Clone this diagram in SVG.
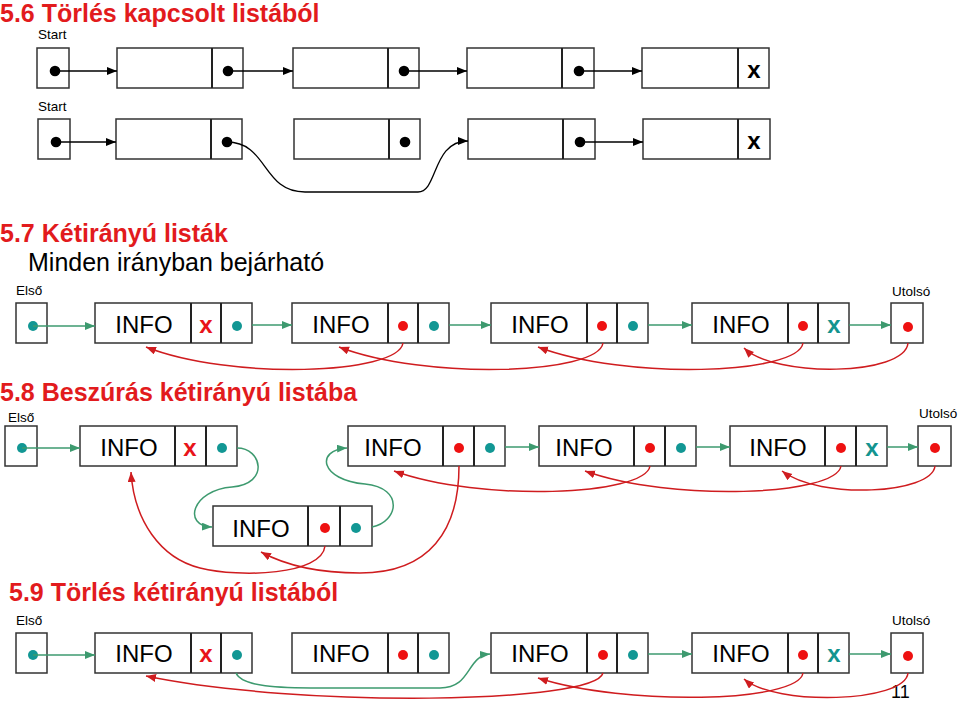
<svg xmlns="http://www.w3.org/2000/svg" width="960" height="702" viewBox="0 0 960 702">
<style>
text{font-family:"Liberation Sans",Arial,sans-serif}
.title{font-size:25px;font-weight:bold;fill:#e21b1d}
.sub{font-size:25px;fill:#000}
.lbl{font-size:13.5px;fill:#000}
.box{fill:#fff;stroke:#333;stroke-width:1.5}
.div{stroke:#222;stroke-width:2}
.info{font-size:24px;fill:#000;text-anchor:middle}
.xr{font-size:24px;font-weight:bold;fill:#e8141a;text-anchor:middle}
.xt{font-size:24px;font-weight:bold;fill:#13948f;text-anchor:middle}
.xb{font-size:24px;font-weight:bold;fill:#000;text-anchor:middle}
.dk{fill:#000}
.dr{fill:#ee1111}
.dt{fill:#129794}
.ck{stroke:#000;stroke-width:1.3;fill:none;marker-end:url(#ak)}
.cg{stroke:#3d9a6f;stroke-width:1.5;fill:none;marker-end:url(#ag)}
.cr{stroke:#cf1c1f;stroke-width:1.5;fill:none;marker-end:url(#ar)}
</style>
<defs>
<marker id="ak" markerUnits="userSpaceOnUse" markerWidth="11" markerHeight="9" refX="10" refY="4" orient="auto"><path d="M0,0 L10,4 L0,8 z" fill="#000"/></marker>
<marker id="ag" markerUnits="userSpaceOnUse" markerWidth="11" markerHeight="9" refX="10" refY="4" orient="auto"><path d="M0,0 L10,4 L0,8 z" fill="#3d9a6f"/></marker>
<marker id="ar" markerUnits="userSpaceOnUse" markerWidth="11" markerHeight="9" refX="10" refY="4" orient="auto"><path d="M0,0 L10,4 L0,8 z" fill="#cf1c1f"/></marker>
</defs>
<rect width="960" height="702" fill="#fff"/>

<g id="titles">
<text class="title" x="0" y="22">5.6 Törlés kapcsolt listából</text>
<text class="title" x="0" y="242">5.7 Kétirányú listák</text>
<text class="sub" x="28" y="271">Minden irányban bejárható</text>
<text class="title" x="0" y="401">5.8 Beszúrás kétirányú listába</text>
<text class="title" x="9" y="601">5.9 Törlés kétirányú listából</text>
<text class="lbl" x="38" y="39">Start</text>
<text class="lbl" x="38" y="111">Start</text>
<text class="lbl" x="16" y="295">Első</text>
<text class="lbl" x="892" y="296">Utolsó</text>
<text class="lbl" x="8" y="422">Első</text>
<text class="lbl" x="919" y="418">Utolsó</text>
<text class="lbl" x="16" y="625">Első</text>
<text class="lbl" x="892" y="625">Utolsó</text>
<text x="891" y="698" style="font-size:18px;fill:#000">11</text>
</g>

<!-- 5.6 row 1 -->
<g id="s56a-start"><rect class="box" x="37" y="48" width="32" height="40"/><circle class="dk" cx="55" cy="71" r="5.3"/></g>
<g id="s56a-n1"><rect class="box" x="117" y="48" width="126" height="40"/><line class="div" x1="212" y1="48" x2="212" y2="88"/><circle class="dk" cx="228" cy="71" r="5.3"/></g>
<g id="s56a-n2"><rect class="box" x="293" y="48" width="126" height="40"/><line class="div" x1="388" y1="48" x2="388" y2="88"/><circle class="dk" cx="404" cy="71" r="5.3"/></g>
<g id="s56a-n3"><rect class="box" x="467" y="48" width="127" height="40"/><line class="div" x1="562" y1="48" x2="562" y2="88"/><circle class="dk" cx="579" cy="71" r="5.3"/></g>
<g id="s56a-n4"><rect class="box" x="642" y="48" width="127" height="40"/><line class="div" x1="738" y1="48" x2="738" y2="88"/><text class="xb" x="754" y="78">x</text></g>

<!-- 5.6 row 2 -->
<g id="s56b-start"><rect class="box" x="38" y="119" width="32" height="40"/><circle class="dk" cx="56" cy="142" r="5.3"/></g>
<g id="s56b-n1"><rect class="box" x="116" y="119" width="126" height="40"/><line class="div" x1="211" y1="119" x2="211" y2="159"/><circle class="dk" cx="227" cy="142" r="5.3"/></g>
<g id="s56b-n2"><rect class="box" x="294" y="119" width="126" height="40"/><line class="div" x1="389" y1="119" x2="389" y2="159"/><circle class="dk" cx="405" cy="142" r="5.3"/></g>
<g id="s56b-n3"><rect class="box" x="468" y="119" width="127" height="40"/><line class="div" x1="563" y1="119" x2="563" y2="159"/><circle class="dk" cx="580" cy="142" r="5.3"/></g>
<g id="s56b-n4"><rect class="box" x="643" y="119" width="127" height="40"/><line class="div" x1="738" y1="119" x2="738" y2="159"/><text class="xb" x="754" y="149">x</text></g>

<!-- 5.7 -->
<g id="s57-first"><rect class="box" x="16" y="303" width="31" height="40"/><circle class="dt" cx="33" cy="326" r="5"/></g>
<g id="s57-n1"><rect class="box" x="95" y="303" width="157" height="40"/><line class="div" x1="191" y1="303" x2="191" y2="343"/><line class="div" x1="221" y1="303" x2="221" y2="343"/><text class="info" x="144" y="333">INFO</text><text class="xr" x="206" y="333">x</text><circle class="dt" cx="237" cy="326" r="5"/></g>
<g id="s57-n2"><rect class="box" x="292" y="303" width="157" height="40"/><line class="div" x1="388" y1="303" x2="388" y2="343"/><line class="div" x1="418" y1="303" x2="418" y2="343"/><text class="info" x="341" y="333">INFO</text><circle class="dr" cx="403" cy="326" r="5"/><circle class="dt" cx="434" cy="326" r="5"/></g>
<g id="s57-n3"><rect class="box" x="491" y="303" width="157" height="40"/><line class="div" x1="587" y1="303" x2="587" y2="343"/><line class="div" x1="617" y1="303" x2="617" y2="343"/><text class="info" x="540" y="333">INFO</text><circle class="dr" cx="602" cy="326" r="5"/><circle class="dt" cx="633" cy="326" r="5"/></g>
<g id="s57-n4"><rect class="box" x="692" y="303" width="157" height="40"/><line class="div" x1="788" y1="303" x2="788" y2="343"/><line class="div" x1="818" y1="303" x2="818" y2="343"/><text class="info" x="741" y="333">INFO</text><circle class="dr" cx="803" cy="326" r="5"/><text class="xt" x="834" y="333">x</text></g>
<g id="s57-last"><rect class="box" x="891" y="303" width="32" height="40"/><circle class="dr" cx="908" cy="327" r="5"/></g>

<!-- 5.8 -->
<g id="s58-first"><rect class="box" x="5" y="426" width="32" height="40"/><circle class="dt" cx="22" cy="448" r="5"/></g>
<g id="s58-n1"><rect class="box" x="80" y="426" width="157" height="40"/><line class="div" x1="175" y1="426" x2="175" y2="466"/><line class="div" x1="206" y1="426" x2="206" y2="466"/><text class="info" x="129" y="456">INFO</text><text class="xr" x="190" y="456">x</text><circle class="dt" cx="222" cy="448" r="5"/></g>
<g id="s58-new"><rect class="box" x="213" y="506" width="159" height="40"/><line class="div" x1="308" y1="506" x2="308" y2="546"/><line class="div" x1="340" y1="506" x2="340" y2="546"/><text class="info" x="261" y="537">INFO</text><circle class="dr" cx="325" cy="528" r="5"/><circle class="dt" cx="356" cy="528" r="5"/></g>
<g id="s58-n2"><rect class="box" x="348" y="426" width="157" height="40"/><line class="div" x1="443" y1="426" x2="443" y2="466"/><line class="div" x1="474" y1="426" x2="474" y2="466"/><text class="info" x="393" y="456">INFO</text><circle class="dr" cx="459" cy="448" r="5"/><circle class="dt" cx="490" cy="448" r="5"/></g>
<g id="s58-n3"><rect class="box" x="539" y="426" width="157" height="40"/><line class="div" x1="634" y1="426" x2="634" y2="466"/><line class="div" x1="665" y1="426" x2="665" y2="466"/><text class="info" x="584" y="456">INFO</text><circle class="dr" cx="650" cy="448" r="5"/><circle class="dt" cx="681" cy="448" r="5"/></g>
<g id="s58-n4"><rect class="box" x="730" y="426" width="157" height="40"/><line class="div" x1="825" y1="426" x2="825" y2="466"/><line class="div" x1="856" y1="426" x2="856" y2="466"/><text class="info" x="778" y="456">INFO</text><circle class="dr" cx="841" cy="448" r="5"/><text class="xt" x="872" y="456">x</text></g>
<g id="s58-last"><rect class="box" x="918" y="426" width="33" height="40"/><circle class="dr" cx="935" cy="448" r="5"/></g>

<!-- 5.9 -->
<g id="s59-first"><rect class="box" x="16" y="633" width="31" height="40"/><circle class="dt" cx="33" cy="655" r="5"/></g>
<g id="s59-n1"><rect class="box" x="95" y="633" width="157" height="40"/><line class="div" x1="191" y1="633" x2="191" y2="673"/><line class="div" x1="221" y1="633" x2="221" y2="673"/><text class="info" x="144" y="662">INFO</text><text class="xr" x="206" y="662">x</text><circle class="dt" cx="237" cy="655" r="5"/></g>
<g id="s59-n2"><rect class="box" x="292" y="633" width="157" height="40"/><line class="div" x1="388" y1="633" x2="388" y2="673"/><line class="div" x1="418" y1="633" x2="418" y2="673"/><text class="info" x="341" y="662">INFO</text><circle class="dr" cx="403" cy="655" r="5"/><circle class="dt" cx="434" cy="655" r="5"/></g>
<g id="s59-n3"><rect class="box" x="491" y="633" width="157" height="40"/><line class="div" x1="587" y1="633" x2="587" y2="673"/><line class="div" x1="617" y1="633" x2="617" y2="673"/><text class="info" x="540" y="662">INFO</text><circle class="dr" cx="603" cy="655" r="5"/><circle class="dt" cx="633" cy="655" r="5"/></g>
<g id="s59-n4"><rect class="box" x="692" y="633" width="157" height="40"/><line class="div" x1="788" y1="633" x2="788" y2="673"/><line class="div" x1="818" y1="633" x2="818" y2="673"/><text class="info" x="741" y="662">INFO</text><circle class="dr" cx="803" cy="655" r="5"/><text class="xt" x="834" y="662">x</text></g>
<g id="s59-last"><rect class="box" x="891" y="633" width="32" height="40"/><circle class="dr" cx="908" cy="656" r="5"/></g>

<g id="connectors">
<!-- 5.6 -->
<path class="ck" d="M55,71 H117"/>
<path class="ck" d="M228,71 H293"/>
<path class="ck" d="M404,71 H467"/>
<path class="ck" d="M579,71 H642"/>
<path class="ck" d="M56,142 H116"/>
<path class="ck" d="M227,142 C268,142 262,192 305,192 L418,192 C438,192 432,141 468,141"/>
<path class="ck" d="M580,142 H643"/>
<!-- 5.7 -->
<path class="cg" d="M33,326 H95"/>
<path class="cg" d="M252,325 H292"/>
<path class="cg" d="M449,325 H491"/>
<path class="cg" d="M648,325 H692"/>
<path class="cg" d="M849,325 H891"/>
<path class="cr" d="M403,343 C398,375 230,380 146,347"/>
<path class="cr" d="M603,343 C598,375 425,380 339,347"/>
<path class="cr" d="M803,343 C798,375 625,380 538,347"/>
<path class="cr" d="M908,343 C905,376 775,378 744,348"/>
<!-- 5.8 -->
<path class="cg" d="M22,448 H80"/>
<path class="cg" d="M505,447 H539"/>
<path class="cg" d="M696,447 H730"/>
<path class="cg" d="M887,447 H918"/>
<path class="cg" d="M237,448 C262,448 270,484 232,487 C192,490 182,526 212,527"/>
<path class="cg" d="M372,527 C398,522 405,488 365,484 C320,480 315,450 347,448"/>
<path class="cr" d="M325,546 C322,575 240,578 200,568 C160,558 134,520 131,472"/>
<path class="cr" d="M459,466 C459,530 430,573 360,573 C320,573 285,565 261,552"/>
<path class="cr" d="M650,466 C645,496 480,502 394,471"/>
<path class="cr" d="M841,466 C836,496 671,502 585,471"/>
<path class="cr" d="M935,466 C932,494 820,500 782,471"/>
<!-- 5.9 -->
<path class="cg" d="M33,655 H95"/>
<path class="cg" d="M648,654 H692"/>
<path class="cg" d="M849,654 H891"/>
<path class="cg" d="M236,673 C242,687 280,688 320,688 L440,688 C472,688 466,656 490,654"/>
<path class="cr" d="M603,673 C595,704 300,708 146,676"/>
<path class="cr" d="M803,673 C798,703 625,706 538,678"/>
<path class="cr" d="M908,673 C905,703 775,706 744,679"/>
</g>
</svg>
